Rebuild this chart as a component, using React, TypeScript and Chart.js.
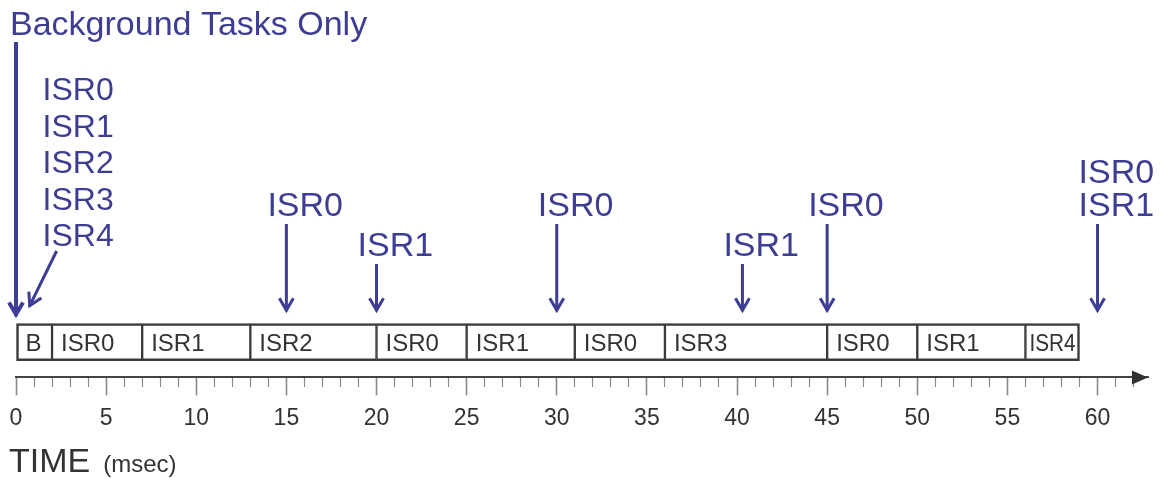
import React, { useEffect, useRef } from 'react';
import { Chart, registerables } from 'chart.js';

Chart.register(...registerables);

// ---- data ----
const segmentLabels = ['B', 'ISR0', 'ISR1', 'ISR2', 'ISR0', 'ISR1', 'ISR0', 'ISR3', 'ISR0', 'ISR1', 'ISR4'];
const segmentStarts = [0, 2, 7, 13, 20, 25, 31, 36, 45, 50, 56];
const segmentEnds = [2, 7, 13, 20, 25, 31, 36, 45, 50, 56, 59];

const eventTimes = [15, 20, 30, 40.3, 45, 60];
const eventLabels = [['ISR0'], ['ISR1'], ['ISR0'], ['ISR1'], ['ISR0'], ['ISR0', 'ISR1']];
const eventLevels = [0, 1, 0, 1, 0, 0];

const burstTime = 0.7;
const burstLabels = ['ISR0', 'ISR1', 'ISR2', 'ISR3', 'ISR4'];

const backgroundTime = 0;
const backgroundLabel = 'Background Tasks Only';

const axisMin = 0;
const axisMax = 62.8;
const majorStep = 5;
const lastLabeledTick = 60;
const axisTitle = 'TIME';
const axisUnit = '(msec)';

const FONT = "'Liberation Sans', Arial, Helvetica, sans-serif";
const ACCENT = '#3d3d93';
const DARK = '#333333';

function drawArrow(ctx: CanvasRenderingContext2D, x1: number, y1: number, x2: number, y2: number, lw: number, head: number, half: number) {
  const ang = Math.atan2(y2 - y1, x2 - x1);
  ctx.lineWidth = lw;
  ctx.lineCap = 'butt';
  ctx.lineJoin = 'miter';
  ctx.beginPath();
  ctx.moveTo(x1, y1);
  ctx.lineTo(x2 - Math.cos(ang) * lw * 0.6, y2 - Math.sin(ang) * lw * 0.6);
  ctx.stroke();
  const tx = x2 - Math.cos(ang) * lw * 0.9;
  const ty = y2 - Math.sin(ang) * lw * 0.9;
  const bx = tx - head * Math.cos(ang);
  const by = ty - head * Math.sin(ang);
  const nx = -Math.sin(ang) * half;
  const ny = Math.cos(ang) * half;
  ctx.beginPath();
  ctx.moveTo(bx + nx, by + ny);
  ctx.lineTo(tx, ty);
  ctx.lineTo(bx - nx, by - ny);
  ctx.stroke();
}

const annotations = {
  id: 'annotations',
  afterDatasetsDraw(chart: any) {
    const ctx: CanvasRenderingContext2D = chart.ctx;
    const size = 24;
    ctx.save();
    ctx.font = `${size}px ${FONT}`;
    ctx.fillStyle = DARK;
    ctx.textBaseline = 'alphabetic';
    ctx.textAlign = 'left';
    chart.data.datasets.forEach((_ds: any, i: number) => {
      const el = chart.getDatasetMeta(i).data[0];
      if (!el) return;
      const left = Math.min(el.x, el.base);
      const right = Math.max(el.x, el.base);
      const w = right - left;
      const text = segmentLabels[i];
      const tw = ctx.measureText(text).width;
      const by = el.y + size * 0.716 / 2 + 0.5;
      if (tw + 12 > w) {
        ctx.fillText(text, left + 4, by, w - 8);
      } else {
        ctx.fillText(text, left + 9, by);
      }
    });
    ctx.restore();
  },
  afterDraw(chart: any) {
    const ctx: CanvasRenderingContext2D = chart.ctx;
    const xs = chart.scales.x;
    const top = chart.chartArea.top;
    ctx.save();

    // axis arrow head
    ctx.fillStyle = '#333';
    const ax = xs.getPixelForValue(axisMax);
    const ay = xs.top;
    ctx.beginPath();
    ctx.moveTo(ax, ay);
    ctx.lineTo(ax - 16, ay - 7);
    ctx.lineTo(ax - 16, ay + 7);
    ctx.closePath();
    ctx.fill();

    // axis title
    ctx.fillStyle = DARK;
    ctx.textAlign = 'left';
    ctx.textBaseline = 'alphabetic';
    ctx.font = `34px ${FONT}`;
    const tX = xs.getPixelForValue(axisMin) - 7;
    const tY = xs.top + 95;
    ctx.fillText(axisTitle, tX, tY);
    const tw = ctx.measureText(axisTitle).width;
    ctx.font = `24px ${FONT}`;
    ctx.fillText(axisUnit, tX + tw + 13, tY);

    ctx.strokeStyle = ACCENT;
    ctx.fillStyle = ACCENT;

    // background tasks label + arrow
    const bgX = xs.getPixelForValue(backgroundTime);
    ctx.font = `34px ${FONT}`;
    ctx.fillText(backgroundLabel, bgX - 6, top - 272);
    drawArrow(ctx, bgX, top - 265, bgX, top + 11, 4, 12, 7);

    // burst of ISRs
    const bX = xs.getPixelForValue(burstTime);
    ctx.font = `32px ${FONT}`;
    burstLabels.forEach((l, i) => {
      ctx.fillText(l, bX + 14, top - 207 + i * 36.5);
    });
    drawArrow(ctx, bX + 28, top - 56, bX, top + 1, 3, 12, 7);

    // events
    ctx.font = `34px ${FONT}`;
    eventTimes.forEach((t, i) => {
      const x = xs.getPixelForValue(t);
      const start = eventLevels[i] === 0 ? top - 83 : top - 43;
      const lines = eventLabels[i];
      lines.forEach((l, j) => {
        const baseline = start - 8 - (lines.length - 1 - j) * 33;
        ctx.fillText(l, x - 19, baseline);
      });
      drawArrow(ctx, x, start, x, top + 6, 3, 12, 7);
    });

    ctx.restore();
  },
};

export default function App() {
  const ref = useRef<HTMLCanvasElement | null>(null);

  useEffect(() => {
    if (!ref.current) return;
    const datasets = segmentLabels.map((label, i) => ({
      label,
      data: [[segmentStarts[i], segmentEnds[i]]],
      backgroundColor: '#ffffff',
      borderColor: '#3a3a3a',
      borderWidth: {
        top: 2.5,
        bottom: 2.5,
        left: i === 0 ? 2.5 : 1.5,
        right: i === segmentLabels.length - 1 ? 2.5 : 1.5,
      },
      borderSkipped: false,
      grouped: false,
      barThickness: 37,
    }));

    const chart = new Chart(ref.current, {
      type: 'bar',
      data: { labels: ['tasks'], datasets: datasets as any },
      options: {
        indexAxis: 'y',
        responsive: false,
        animation: false,
        events: [],
        layout: { padding: { top: 307, left: 16, right: 16, bottom: 37 } },
        plugins: {
          legend: { display: false },
          tooltip: { enabled: false },
        },
        scales: {
          y: { type: 'category', display: false },
          x: {
            type: 'linear',
            min: axisMin,
            max: axisMax,
            position: 'bottom',
            border: { display: true, color: '#444', width: 2 },
            grid: {
              drawOnChartArea: false,
              drawTicks: true,
              tickLength: 18,
              tickColor: '#8a8a8a',
              tickWidth: (c: any) => (c.tick && c.tick.value % majorStep === 0 ? 1.6 : 1.2),
              tickBorderDash: (c: any) => (c.tick && c.tick.value % majorStep === 0 ? [] : [9, 40]),
            },
            ticks: {
              stepSize: 1,
              autoSkip: false,
              includeBounds: false,
              maxRotation: 0,
              color: DARK,
              padding: 9,
              font: { family: FONT, size: 23 },
              callback: (v: any) => (v % majorStep === 0 && v <= lastLabeledTick ? String(v) : ''),
            },
          },
        },
      },
      plugins: [annotations],
    });
    return () => chart.destroy();
  }, []);

  return (
    <div style={{ position: 'absolute', left: 0, top: 0, width: 1164, height: 478, background: '#fff' }}>
      <canvas ref={ref} width={1164} height={478} />
    </div>
  );
}
